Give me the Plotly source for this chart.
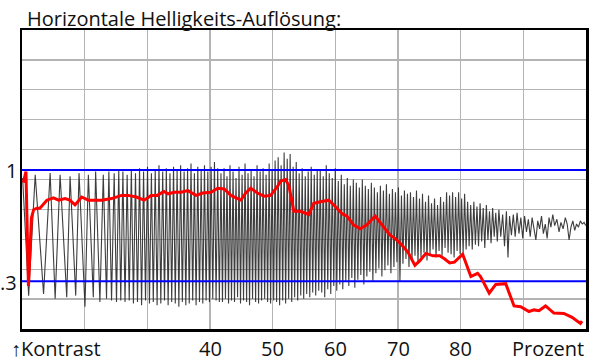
import plotly.graph_objects as go

# ---------------- data ----------------
x_min, x_max = 10, 100
y_min, y_max = 0, 1.88

x_grid = [20, 30, 40, 50, 60, 70, 80, 90]
x_label_vals = [40, 50, 60, 70, 80]
x_label_text = ["40", "50", "60", "70", "80"]
y_grid = [0.188, 0.376, 0.564, 0.752, 0.94, 1.128, 1.316, 1.504, 1.692]

ref_levels = [1.0, 0.3]
ref_labels = ["1", ".3"]

title_text = "Horizontale Helligkeits-Auflösung:"
left_label = "↑Kontrast"
right_label = "Prozent"

# grey test signal (peaks / troughs)
gA_x = [10.10, 11.06, 12.11, 13.44, 14.49, 15.29, 16.08, 17.14, 17.67, 18.57, 19.10, 20.05,
        20.59, 21.38, 21.75, 22.43, 22.97, 23.49, 23.86, 24.29, 24.71, 25.08, 25.44, 25.76]
gA_y = [0.95, 0.21, 0.97, 0.22, 0.98, 0.19, 0.97, 0.20, 0.96, 0.21, 0.98, 0.14,
        0.97, 0.20, 0.99, 0.17, 0.97, 0.19, 0.99, 0.18, 0.98, 0.17, 1.00, 0.18]

gB_x = [26.10, 26.44, 26.78, 27.11, 27.45, 27.78, 28.11, 28.43, 28.76, 29.08,
        29.40, 29.71, 30.03, 30.34, 30.65, 30.95, 31.26, 31.56, 31.86, 32.15,
        32.45, 32.74, 33.03, 33.32, 33.61, 33.89, 34.18, 34.46, 34.75, 35.03,
        35.31, 35.59, 35.87, 36.14, 36.42, 36.69, 36.97, 37.24, 37.51, 37.78,
        38.05, 38.32, 38.59, 38.85, 39.12, 39.38, 39.65, 39.91, 40.18, 40.44,
        40.71, 40.97, 41.23, 41.49]
gB_peaks = [0.99, 0.97, 1.00, 0.98, 1.01, 0.99, 1.02, 0.98, 1.00, 1.03, 0.99, 1.01, 0.98, 1.02,
            1.00, 1.03, 0.99, 1.01, 1.04, 0.98, 1.02, 1.00, 1.03, 0.99, 1.02, 1.05, 1.01]
gB_troughs = [0.17, 0.18, 0.16, 0.17, 0.15, 0.18, 0.16, 0.17, 0.15, 0.16, 0.18, 0.15, 0.17, 0.16,
              0.14, 0.17, 0.15, 0.16, 0.18, 0.15, 0.17, 0.16, 0.18, 0.17, 0.19, 0.18, 0.17]

gC_x = [41.75, 41.99, 42.24, 42.47, 42.71, 42.96, 43.19, 43.43, 43.68, 43.91,
        44.15, 44.40, 44.63, 44.87, 45.12, 45.35, 45.59, 45.84, 46.07, 46.31,
        46.56, 46.79, 47.03, 47.28, 47.51, 47.75, 48.00, 48.23, 48.47, 48.72,
        48.95, 49.19, 49.44, 49.67, 49.91, 50.16, 50.39, 50.63, 50.88, 51.11,
        51.35, 51.60, 51.83, 52.07, 52.32, 52.55, 52.79, 53.04, 53.27, 53.51,
        53.76, 53.99, 54.23, 54.48, 54.71, 54.95, 55.20, 55.43, 55.67, 55.92,
        56.15, 56.39, 56.64, 56.87, 57.11, 57.35]
gC_peaks = [0.98, 1.01, 0.96, 1.03, 0.99, 0.95, 1.02, 0.97, 1.04, 0.98, 1.00, 0.96, 1.03, 0.99,
            1.01, 0.97, 1.04, 1.00, 1.06, 1.08, 1.03, 1.11, 1.07, 1.10, 1.02, 1.05, 0.98, 1.01,
            0.96, 0.99, 1.02, 0.97, 1.00]
gC_troughs = [0.17, 0.19, 0.16, 0.18, 0.17, 0.20, 0.16, 0.18, 0.17, 0.15, 0.19, 0.17, 0.16, 0.18,
              0.19, 0.17, 0.16, 0.18, 0.17, 0.15, 0.18, 0.16, 0.19, 0.17, 0.20, 0.18, 0.21, 0.19,
              0.22, 0.20, 0.23, 0.21, 0.24]

gD_x = [57.59, 57.83, 58.07, 58.31, 58.55, 58.79, 59.03, 59.27, 59.51, 59.75,
        59.99, 60.23, 60.47, 60.71, 60.95, 61.19, 61.43, 61.67, 61.91, 62.15,
        62.39, 62.63, 62.87, 63.11, 63.35, 63.59, 63.83, 64.07, 64.31, 64.55,
        64.79, 65.03, 65.27, 65.51, 65.75, 65.99, 66.23, 66.47, 66.71, 66.95,
        67.19, 67.43, 67.67, 67.91, 68.15, 68.39, 68.63, 68.87, 69.11, 69.35,
        69.59, 69.83, 70.07, 70.31, 70.55, 70.79, 71.03, 71.27, 71.51, 71.75,
        71.99, 72.23, 72.47, 72.71, 72.95, 73.19, 73.43, 73.67, 73.91, 74.15,
        74.39, 74.63, 74.87, 75.11, 75.35, 75.59, 75.83, 76.07, 76.31, 76.55,
        76.79, 77.03, 77.27, 77.51, 77.75, 77.99]
gD_peaks = [1.00, 0.96, 1.03, 0.98, 0.95, 1.01, 0.93, 0.97, 0.91, 0.95, 0.90, 0.94, 0.92, 0.89,
            0.94, 0.90, 0.88, 0.92, 0.89, 0.86, 0.90, 0.87, 0.91, 0.85, 0.88, 0.86, 0.89, 0.84,
            0.87, 0.85, 0.86, 0.83, 0.87, 0.82, 0.85, 0.80, 0.84, 0.79, 0.82, 0.78, 0.83, 0.80,
            0.86]
gD_troughs = [0.23, 0.20, 0.25, 0.22, 0.27, 0.24, 0.28, 0.25, 0.30, 0.27, 0.32, 0.26, 0.31, 0.34,
              0.28, 0.33, 0.36, 0.30, 0.35, 0.38, 0.33, 0.37, 0.40, 0.35, 0.39, 0.42, 0.30, 0.41,
              0.44, 0.39, 0.43, 0.46, 0.41, 0.45, 0.48, 0.43, 0.47, 0.50, 0.45, 0.49, 0.46, 0.51,
              0.48]

gE_x = [78.23, 78.47, 78.71, 78.95, 79.19, 79.43, 79.67, 79.91, 80.15, 80.39,
        80.63, 80.87, 81.11, 81.35, 81.6, 81.85, 82.1, 82.35, 82.6, 82.85,
        83.1, 83.35, 83.6, 83.85, 84.1, 84.35, 84.6, 84.85, 85.1, 85.35,
        85.6, 85.85, 86.1, 86.4, 86.7, 87.0, 87.3, 87.55, 87.8, 88.1,
        88.4, 88.7, 89.0, 89.3, 89.6, 89.9, 90.2, 90.5, 90.8, 91.1,
        91.4, 91.7, 92.0, 92.3, 92.6, 92.9, 93.2, 93.5, 93.8, 94.1,
        94.4, 94.7, 95.0, 95.35, 95.7, 96.0, 96.35, 96.7, 97.0, 97.3,
        97.6, 97.9, 98.2, 98.5, 98.8, 99.1, 99.4, 99.7, 99.95]
gE_y = [0.84, 0.47, 0.86, 0.45, 0.83, 0.49, 0.86, 0.47, 0.82, 0.48,
        0.85, 0.50, 0.80, 0.52, 0.78, 0.50, 0.80, 0.53, 0.77, 0.52,
        0.79, 0.55, 0.76, 0.51, 0.78, 0.56, 0.74, 0.54, 0.76, 0.58,
        0.73, 0.55, 0.75, 0.58, 0.72, 0.52, 0.74, 0.45, 0.71, 0.59,
        0.72, 0.58, 0.73, 0.60, 0.70, 0.57, 0.71, 0.61, 0.69, 0.58,
        0.70, 0.62, 0.56, 0.68, 0.63, 0.71, 0.60, 0.66, 0.57, 0.70,
        0.64, 0.72, 0.65, 0.69, 0.61, 0.67, 0.63, 0.70, 0.66, 0.56,
        0.64, 0.68, 0.62, 0.66, 0.64, 0.68, 0.66, 0.67, 0.65]

# red measured curve
red_x = [10.21, 10.63, 11.03, 11.51, 11.86, 12.38, 12.86, 13.49, 13.97, 15.03,
         15.83, 16.87, 17.62, 18.46, 19.52, 20.59, 22.70, 24.29, 25.87, 26.94,
         28.25, 29.48, 30.63, 31.59, 32.65, 33.29, 34.33, 35.40, 36.46, 37.78,
         38.84, 40.16, 41.22, 42.27, 43.33, 44.92, 45.71, 46.51, 47.57, 48.62,
         49.68, 50.75, 51.27, 52.06, 52.59, 53.38, 54.44, 55.76, 56.56, 57.62,
         58.94, 60.0, 61.06, 61.86, 62.90, 63.97, 65.03, 66.35, 67.41, 68.73,
         69.52, 70.59, 71.63, 72.70, 73.49, 74.44, 75.60, 76.67, 77.46, 78.25,
         79.0, 80.32, 81.63, 82.70, 83.17, 84.56, 85.60, 87.19, 88.52, 89.57,
         90.90, 91.70, 92.49, 93.54, 94.87, 96.46, 97.78, 99.10, 99.37]
red_y = [0.92, 0.99, 0.27, 0.70, 0.75, 0.76, 0.76, 0.79, 0.81, 0.825,
         0.81, 0.82, 0.81, 0.78, 0.83, 0.81, 0.81, 0.82, 0.84, 0.84,
         0.83, 0.81, 0.84, 0.84, 0.865, 0.85, 0.86, 0.86, 0.87, 0.84,
         0.855, 0.86, 0.885, 0.88, 0.84, 0.81, 0.855, 0.885, 0.855, 0.835,
         0.84, 0.895, 0.93, 0.94, 0.90, 0.74, 0.74, 0.72, 0.79, 0.80,
         0.81, 0.77, 0.725, 0.71, 0.655, 0.63, 0.655, 0.71, 0.655, 0.59,
         0.57, 0.53, 0.48, 0.40, 0.43, 0.475, 0.46, 0.46, 0.44, 0.415,
         0.42, 0.47, 0.33, 0.35, 0.33, 0.225, 0.28, 0.285, 0.145, 0.14,
         0.11, 0.12, 0.115, 0.145, 0.10, 0.098, 0.073, 0.035, 0.05]


def interleave(peaks, troughs):
    out = []
    for p, t in zip(peaks, troughs):
        out.extend([p, t])
    return out


grey_x = gA_x + gB_x + gC_x + gD_x + gE_x
grey_y = (gA_y + interleave(gB_peaks, gB_troughs) + interleave(gC_peaks, gC_troughs)
          + interleave(gD_peaks, gD_troughs) + gE_y)

# ---------------- figure ----------------
FONT = "Open Sans"
FS = 20
fig = go.Figure()

fig.add_trace(go.Scatter(x=grey_x, y=grey_y, mode="lines",
                         line=dict(color="rgba(35,35,35,0.88)", width=1.1),
                         hoverinfo="skip"))
for lvl in ref_levels:
    fig.add_trace(go.Scatter(x=[x_min, x_max], y=[lvl, lvl], mode="lines",
                             line=dict(color="#0000ff", width=2), hoverinfo="skip"))
fig.add_trace(go.Scatter(x=red_x, y=red_y, mode="lines",
                         line=dict(color="#ff0000", width=3), hoverinfo="skip"))

axis_common = dict(showticklabels=False, ticks="", showgrid=True, gridcolor="#b4b4b4",
                   gridwidth=1.3, zeroline=False, showline=True, mirror=True,
                   linecolor="black", linewidth=2.5, fixedrange=True)

fig.update_layout(
    width=600, height=364,
    margin=dict(l=22, r=11, t=30, b=35),
    paper_bgcolor="white", plot_bgcolor="white",
    showlegend=False,
    font=dict(family=FONT, size=FS, color="#111111"),
    xaxis=dict(range=[x_min, x_max], tickvals=x_grid, **axis_common),
    yaxis=dict(range=[y_min, y_max], tickvals=y_grid, **axis_common),
)

ann = []
ann.append(dict(text=title_text, xref="paper", yref="paper", x=0.0053, y=1.0395,
                xanchor="left", yanchor="middle", showarrow=False))
for lvl, lab in zip(ref_levels, ref_labels):
    ann.append(dict(text=lab, xref="paper", yref="y", x=0, y=lvl, xanchor="right",
                    yanchor="middle", xshift=-3, yshift=-1, showarrow=False))
for v, t in zip(x_label_vals, x_label_text):
    ann.append(dict(text=t, xref="x", yref="paper", x=v, y=-0.0659, xanchor="center",
                    yanchor="middle", showarrow=False))
ann.append(dict(text=left_label, xref="paper", yref="paper", x=-0.0238, y=-0.0659,
                xanchor="left", yanchor="middle", showarrow=False))
ann.append(dict(text=right_label, xref="paper", yref="paper", x=1.0, y=-0.0659,
                xanchor="right", yanchor="middle", showarrow=False))
fig.update_layout(annotations=ann)

fig.write_html("out.html", config={"displayModeBar": False, "staticPlot": True},
               post_script="document.body.style.margin='0px';")
